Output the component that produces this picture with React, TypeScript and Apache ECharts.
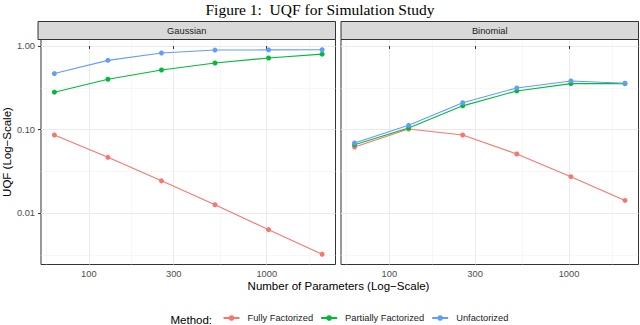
import React, { useEffect, useRef } from "react";
import * as echarts from "echarts";

// ---- data ----
const paramCounts = [64, 128, 256, 512, 1024, 2048];
const methods = ["Fully Factorized", "Partially Factorized", "Unfactorized"];
const panels = ["Gaussian", "Binomial"];
const gaussianFully = [0.0865, 0.0468, 0.0245, 0.0127, 0.0064, 0.00325];
const gaussianPartially = [0.281, 0.401, 0.518, 0.628, 0.72, 0.8];
const gaussianUnfactorized = [0.469, 0.675, 0.826, 0.896, 0.9, 0.904];
const binomialFully = [0.0622, 0.102, 0.0865, 0.0513, 0.0275, 0.0143];
const binomialPartially = [0.0663, 0.105, 0.193, 0.291, 0.356, 0.356];
const binomialUnfactorized = [0.0694, 0.113, 0.21, 0.316, 0.383, 0.36];
const xTickLabels = [100, 300, 1000];
const yTickLabels = [0.01, 0.1, 1];

const colors = ["#F8766D", "#00BA38", "#619CFF"];
const FONT = "Liberation Sans, Arial, Helvetica, sans-serif";

export default function App() {
  const ref = useRef<HTMLDivElement>(null);
  useEffect(() => {
    if (!ref.current) return;
    const chart = echarts.init(ref.current, undefined, { renderer: "svg" });
    const L = Math.log10;
    const xs = paramCounts.map(L);
    const xMin = L(64) - 0.05 * (L(2048) - L(64));
    const xMax = L(2048) + 0.05 * (L(2048) - L(64));
    const allY = [
      ...gaussianFully, ...gaussianPartially, ...gaussianUnfactorized,
      ...binomialFully, ...binomialPartially, ...binomialUnfactorized,
    ].map(L);
    const yLo = Math.min(...allY), yHi = Math.max(...allY);
    const yMin = yLo - 0.05 * (yHi - yLo);
    const yMax = yHi + 0.05 * (yHi - yLo);

    const xMajor = xTickLabels.map(L);
    const xStep = xMajor[1] - xMajor[0];
    const xExt = [xMajor[0] - xStep, ...xMajor, xMajor[xMajor.length - 1] + xStep];
    const xMinor: number[] = [];
    for (let i = 0; i < xExt.length - 1; i++) xMinor.push((xExt[i] + xExt[i + 1]) / 2);
    const yMajor = yTickLabels.map(L);
    const yExt = [yMajor[0] - 1, ...yMajor, yMajor[yMajor.length - 1] + 1];
    const yMinor: number[] = [];
    for (let i = 0; i < yExt.length - 1; i++) yMinor.push((yExt[i] + yExt[i + 1]) / 2);

    const grids = [
      { left: 38, top: 39.5, width: 297.5, height: 225 },
      { left: 341, top: 39.5, width: 297.5, height: 225 },
    ];

    const xAxes: any[] = [];
    const yAxes: any[] = [];
    grids.forEach((g, gi) => {
      xAxes.push({
        type: "value", gridIndex: gi, min: xMin, max: xMax, z: 1,
        axisLine: { show: false },
        axisTick: { show: true, length: 3, customValues: xMajor, lineStyle: { color: "#333333", width: 1 } },
        axisLabel: {
          show: true, customValues: xMajor, margin: 5, color: "#4d4d4d", fontSize: 9.3, fontFamily: FONT,
          formatter: (v: number) => String(Math.round(Math.pow(10, v))),
        },
        splitLine: { show: true, lineStyle: { color: "#ebebeb", width: 1 } },
      });
      xAxes.push({
        type: "value", gridIndex: gi, min: xMin, max: xMax, z: 0,
        axisLine: { show: false },
        axisTick: { show: false, customValues: xMinor },
        axisLabel: { show: false },
        splitLine: { show: true, lineStyle: { color: "#f2f2f2", width: 0.6 } },
      });
      yAxes.push({
        type: "value", gridIndex: gi, min: yMin, max: yMax, z: 1,
        name: gi === 0 ? "UQF (Log\u2212Scale)" : "",
        nameLocation: "middle", nameGap: 27, nameRotate: 90,
        nameTextStyle: { fontSize: 11.5, color: "#000", fontFamily: FONT },
        axisLine: { show: false },
        axisTick: { show: gi === 0, length: 3, customValues: yMajor, lineStyle: { color: "#333333", width: 1 } },
        axisLabel: {
          show: gi === 0, customValues: yMajor, margin: 6, color: "#4d4d4d", fontSize: 9.3, fontFamily: FONT,
          formatter: (v: number) => Math.pow(10, v).toFixed(2),
        },
        splitLine: { show: true, lineStyle: { color: "#ebebeb", width: 1 } },
      });
      yAxes.push({
        type: "value", gridIndex: gi, min: yMin, max: yMax, z: 0,
        axisLine: { show: false },
        axisTick: { show: false, customValues: yMinor },
        axisLabel: { show: false },
        splitLine: { show: true, lineStyle: { color: "#f2f2f2", width: 0.6 } },
      });
    });

    const panelData = [
      [gaussianFully, gaussianPartially, gaussianUnfactorized],
      [binomialFully, binomialPartially, binomialUnfactorized],
    ];
    const series: any[] = [];
    panelData.forEach((arrs, pi) => {
      arrs.forEach((vals, mi) => {
        series.push({
          type: "line", name: methods[mi],
          xAxisIndex: pi * 2, yAxisIndex: pi * 2,
          data: vals.map((v, i) => [xs[i], L(v)]),
          symbol: "circle", symbolSize: 5, showSymbol: true,
          itemStyle: { color: colors[mi] },
          lineStyle: { color: colors[mi], width: 1.1 },
          z: 3 + mi,
        });
      });
    });

    const graphic: any[] = [];
    grids.forEach((g, gi) => {
      graphic.push({
        type: "rect", z: 10,
        shape: { x: g.left, y: 21.5, width: g.width, height: 18 },
        style: { fill: "#d9d9d9", stroke: "#333333", lineWidth: 1 },
      });
      graphic.push({
        type: "text", z: 11,
        x: g.left + g.width / 2, y: 30.7,
        style: {
          text: panels[gi], fill: "#1a1a1a", fontSize: 9.3, fontFamily: FONT,
          align: "center", verticalAlign: "middle",
        },
      });
    });
    graphic.push({
      type: "text", z: 11, x: 338.5, y: 286,
      style: {
        text: "Number of Parameters (Log\u2212Scale)", fill: "#000", fontSize: 11.5, fontFamily: FONT,
        align: "center", verticalAlign: "middle",
      },
    });
    graphic.push({
      type: "text", z: 11, x: 170.5, y: 319.5,
      style: {
        text: "Method:", fill: "#000", fontSize: 11.5, fontFamily: FONT,
        align: "left", verticalAlign: "middle",
      },
    });

    chart.setOption({
      animation: false,
      backgroundColor: "#ffffff",
      title: {
        text: "Figure 1:  UQF for Simulation Study", left: "center", top: 1, padding: 0,
        textStyle: { fontFamily: "Liberation Serif, serif", fontWeight: "normal", fontSize: 15.5, color: "#000" },
      },
      grid: grids.map((g) => ({ ...g, show: true, borderColor: "#333333", borderWidth: 1, backgroundColor: "#ffffff" })),
      xAxis: xAxes,
      yAxis: yAxes,
      legend: {
        data: methods, left: 222.5, top: 313.5, padding: 0, itemWidth: 16, itemHeight: 7, itemGap: 7,
        textStyle: { fontSize: 9.3, color: "#1a1a1a", fontFamily: FONT, padding: [0, 0, 0, 3] },
      },
      graphic,
      series,
    });
    return () => chart.dispose();
  }, []);
  return (
    <div
      ref={ref}
      style={{ position: "fixed", left: 0, top: 0, width: 640, height: 325 }}
    />
  );
}
